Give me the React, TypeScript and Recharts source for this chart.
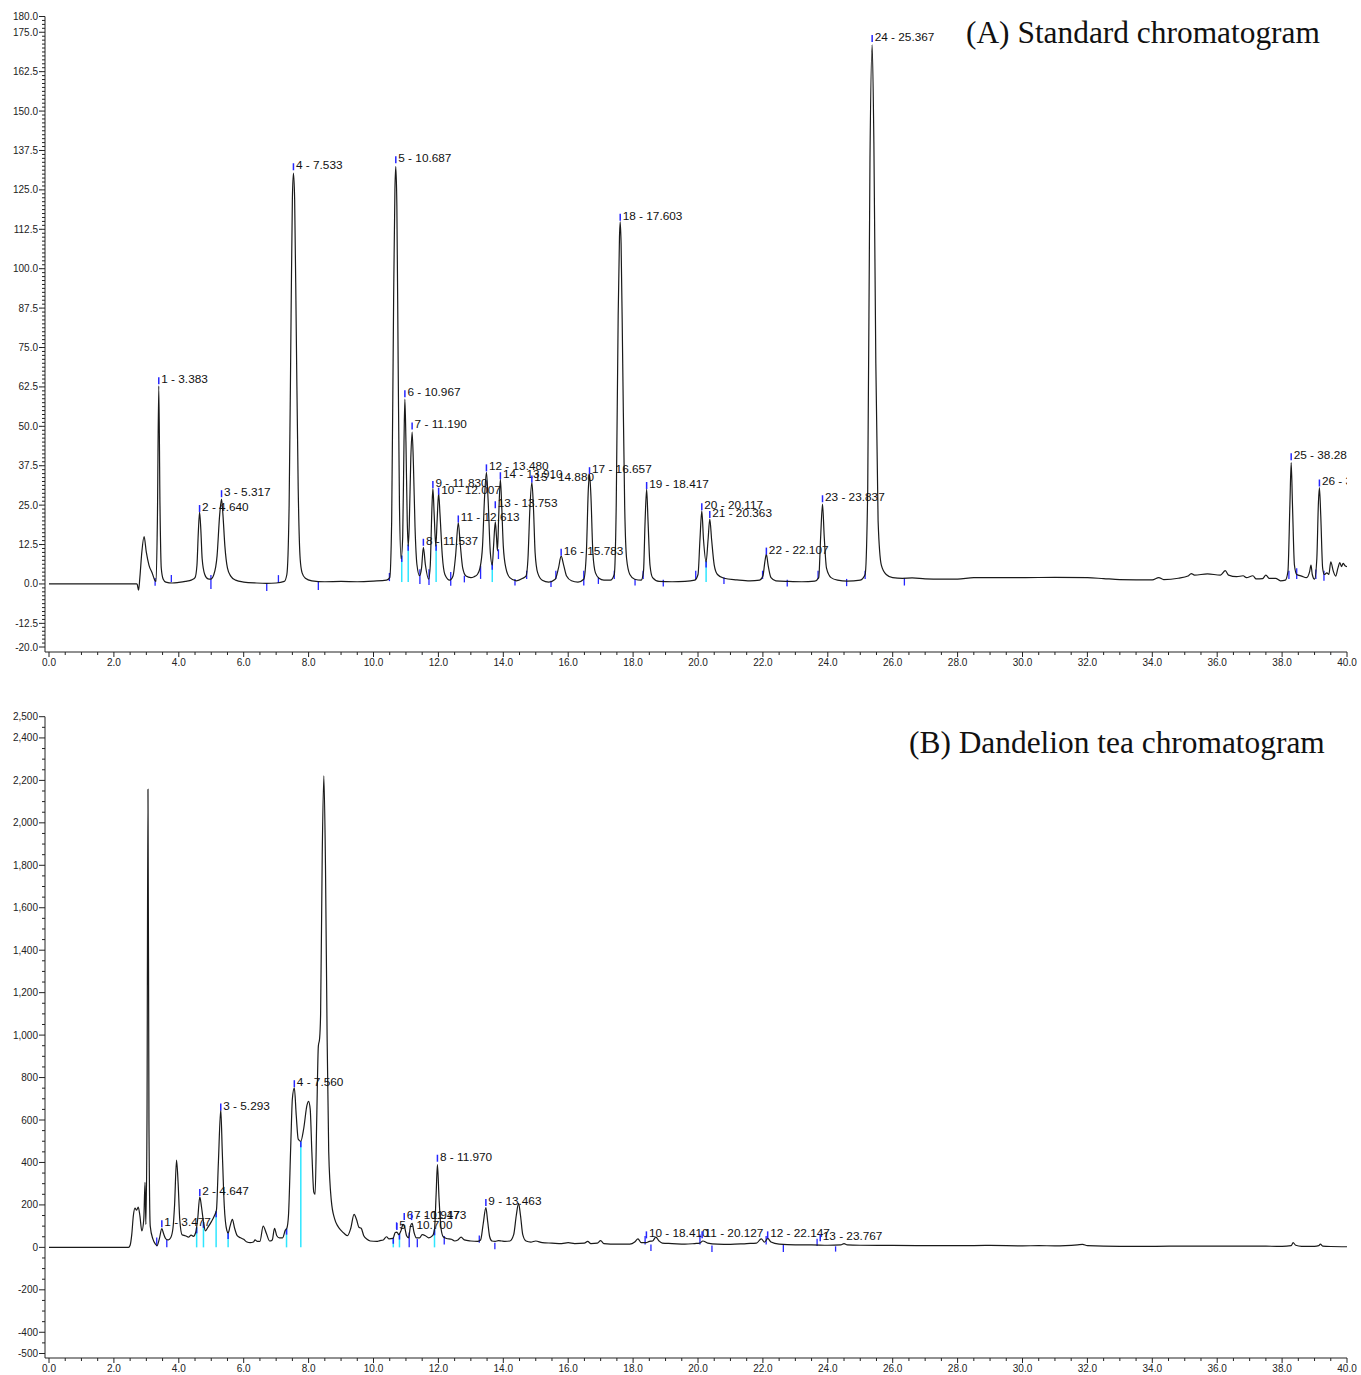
import React from 'react'
import { ComposedChart, Line, Scatter, XAxis, YAxis, ReferenceLine } from 'recharts'

// retention time (min), signal
const standardTrace: [number, number][] = [
  [0, 0], [2.7, 0], [2.72, -0.2], [2.76, -2], [2.8, 2], [2.86, 10], [2.93, 15], [3.0, 10], [3.08, 6],
  [3.18, 3.5], [3.26, 1.2], [3.3, 0.8], [3.34, 20], [3.383, 62.8], [3.42, 25], [3.46, 5], [3.52, 1.5],
  [3.6, 0.6], [3.8, 0.3], [4.0, 0.5], [4.2, 0.8], [4.4, 1.3], [4.5, 2], [4.56, 6], [4.6, 16], [4.64, 22.8],
  [4.68, 17], [4.72, 8], [4.8, 3], [4.9, 1.6], [4.98, 1.5], [5.08, 3], [5.18, 9], [5.26, 22], [5.317, 26.9],
  [5.36, 22], [5.42, 12], [5.5, 5], [5.6, 2.5], [5.75, 1.2], [6.0, 0.6], [6.4, 0.3], [6.7, 0.2], [7.0, 0.3],
  [7.25, 0.8], [7.33, 3], [7.4, 25], [7.46, 85], [7.5, 122], [7.533, 130.3], [7.57, 122], [7.62, 80],
  [7.68, 30], [7.74, 8], [7.8, 3.5], [7.9, 1.8], [8.1, 1], [8.5, 0.7], [9.0, 0.8], [9.5, 0.7], [10.0, 0.9],
  [10.4, 1.2], [10.5, 2], [10.56, 20], [10.62, 90], [10.66, 125], [10.687, 132.4], [10.72, 120], [10.76, 70],
  [10.8, 25], [10.85, 8], [10.9, 15], [10.94, 45], [10.967, 58.6], [11.0, 45], [11.04, 20], [11.07, 12],
  [11.1, 18], [11.15, 40], [11.19, 48.2], [11.23, 38], [11.28, 18], [11.34, 6], [11.42, 2.6], [11.48, 5],
  [11.537, 11.6], [11.6, 6], [11.7, 1.5], [11.75, 6], [11.8, 24], [11.83, 30.3], [11.87, 22], [11.92, 12],
  [11.96, 20], [12.007, 28.8], [12.05, 22], [12.12, 9], [12.2, 3], [12.35, 1.2], [12.45, 2.5], [12.53, 9],
  [12.613, 19.5], [12.67, 13], [12.75, 5], [12.85, 2.5], [13.0, 2], [13.1, 2.3], [13.2, 3], [13.28, 5],
  [13.36, 12], [13.42, 27], [13.48, 35.4], [13.53, 27], [13.6, 10], [13.66, 6], [13.7, 12], [13.753, 19.7],
  [13.79, 15], [13.82, 10.5], [13.86, 22], [13.91, 33.2], [13.95, 25], [14.0, 12], [14.08, 5], [14.2, 2],
  [14.4, 1], [14.6, 1.8], [14.7, 2.5], [14.76, 8], [14.82, 24], [14.88, 32.2], [14.93, 24], [14.98, 10],
  [15.06, 3.5], [15.2, 1.2], [15.4, 0.6], [15.6, 1.5], [15.7, 5], [15.783, 8.8], [15.86, 6], [15.95, 2.5],
  [16.1, 1], [16.3, 0.6], [16.48, 1.5], [16.56, 10], [16.62, 30], [16.657, 34.8], [16.7, 28], [16.76, 10],
  [16.84, 3.5], [16.95, 1.8], [17.1, 1.2], [17.3, 1.2], [17.42, 3], [17.48, 25], [17.54, 85], [17.58, 110],
  [17.603, 114.9], [17.63, 108], [17.68, 70], [17.74, 25], [17.8, 8], [17.9, 3], [18.05, 1.5], [18.25, 1.2],
  [18.32, 4], [18.37, 20], [18.417, 30.1], [18.46, 20], [18.52, 6], [18.6, 2], [18.8, 0.8], [19.2, 0.7],
  [19.6, 0.8], [19.9, 1.2], [20.0, 3], [20.06, 14], [20.117, 23.2], [20.17, 14], [20.25, 7], [20.31, 14],
  [20.363, 20.6], [20.42, 14], [20.5, 6], [20.6, 3], [20.8, 1.8], [21.2, 1.3], [21.6, 1], [21.9, 1.2],
  [22.0, 2.5], [22.06, 7], [22.107, 9.5], [22.16, 6], [22.25, 2], [22.4, 1], [22.8, 0.8], [23.2, 0.7],
  [23.6, 0.9], [23.72, 2], [23.78, 15], [23.837, 25.3], [23.89, 15], [23.96, 5], [24.1, 2], [24.3, 1.2],
  [24.6, 0.9], [25.0, 1.2], [25.15, 3], [25.23, 30], [25.3, 135], [25.367, 171], [25.42, 140], [25.48, 70],
  [25.55, 20], [25.65, 6], [25.8, 3], [26.0, 2], [26.3, 1.8], [26.6, 1.9], [27.0, 1.6], [27.5, 1.5],
  [28.0, 1.5], [28.5, 2], [29.0, 2], [30.0, 2], [31.0, 2.1], [32.0, 2], [32.5, 1.7], [33.0, 1.4], [34.0, 1.3],
  [34.2, 2], [34.35, 1.4], [34.8, 1.8], [35.1, 2.5], [35.2, 3.3], [35.3, 2.8], [35.7, 3.2], [36.1, 2.8],
  [36.25, 4.2], [36.35, 2.8], [36.6, 2.3], [36.8, 2.6], [36.9, 2], [37.1, 2.6], [37.2, 1.6], [37.4, 1.7],
  [37.5, 2.8], [37.6, 1.8], [37.8, 1.8], [37.95, 1], [38.1, 1.2], [38.18, 4], [38.24, 25], [38.28, 38.5],
  [38.32, 25], [38.38, 6], [38.45, 3], [38.6, 2.5], [38.75, 2], [38.85, 4], [38.89, 6], [38.93, 3],
  [39.0, 1.5], [39.07, 8], [39.12, 26], [39.15, 30.6], [39.19, 22], [39.25, 5], [39.3, 3], [39.38, 3.5],
  [39.44, 3], [39.5, 7], [39.58, 4], [39.65, 2.5], [39.72, 5], [39.78, 6.8], [39.83, 5.5], [39.88, 6.5],
  [39.94, 5.8], [40.0, 5.5],
]

// retention time (min), signal — dandelion tea extract
const dandelionTrace: [number, number][] = [
  [0, 0], [2.45, 0], [2.5, 10], [2.55, 60], [2.6, 150], [2.65, 185], [2.7, 175], [2.75, 190], [2.8, 150],
  [2.86, 77], [2.92, 130], [2.96, 306], [2.985, 108], [3.02, 600], [3.05, 2158], [3.08, 600], [3.12, 100],
  [3.2, 40], [3.28, 15], [3.33, 8], [3.4, 40], [3.477, 88], [3.53, 65], [3.6, 40], [3.68, 35], [3.75, 45],
  [3.82, 90], [3.87, 200], [3.93, 411], [3.98, 300], [4.03, 130], [4.1, 60], [4.2, 55], [4.3, 48], [4.38, 58],
  [4.45, 52], [4.52, 70], [4.58, 130], [4.647, 238], [4.7, 190], [4.76, 120], [4.82, 78], [4.9, 95],
  [5.0, 120], [5.1, 150], [5.16, 175], [5.22, 400], [5.293, 649], [5.34, 450], [5.4, 200], [5.48, 80],
  [5.52, 68], [5.58, 100], [5.65, 132], [5.72, 90], [5.8, 55], [5.9, 45], [6.0, 38], [6.1, 25], [6.2, 22],
  [6.3, 25], [6.35, 35], [6.42, 28], [6.5, 28], [6.6, 100], [6.7, 65], [6.8, 30], [6.88, 35], [6.95, 90],
  [7.02, 55], [7.1, 45], [7.2, 45], [7.28, 80], [7.33, 90], [7.38, 150], [7.45, 480], [7.5, 700], [7.56, 751],
  [7.62, 620], [7.68, 510], [7.76, 500], [7.85, 560], [7.95, 670], [8.0, 688], [8.05, 650], [8.1, 450],
  [8.16, 260], [8.2, 249], [8.25, 600], [8.3, 947], [8.34, 985], [8.37, 1100], [8.42, 1850], [8.47, 2221],
  [8.52, 1800], [8.57, 1000], [8.62, 450], [8.7, 220], [8.8, 135], [8.9, 100], [9.0, 80], [9.1, 65],
  [9.2, 55], [9.3, 90], [9.4, 155], [9.48, 130], [9.55, 95], [9.62, 90], [9.7, 55], [9.8, 38], [9.9, 30],
  [10.1, 28], [10.2, 32], [10.3, 35], [10.4, 50], [10.48, 40], [10.6, 42], [10.67, 70], [10.72, 72],
  [10.78, 60], [10.85, 80], [10.91, 108], [10.96, 95], [11.02, 55], [11.08, 45], [11.14, 100], [11.19, 113],
  [11.25, 70], [11.32, 45], [11.42, 45], [11.5, 60], [11.6, 55], [11.7, 45], [11.82, 55], [11.88, 85],
  [11.93, 250], [11.97, 390], [12.02, 230], [12.08, 90], [12.15, 50], [12.25, 42], [12.4, 38], [12.5, 30],
  [12.6, 35], [12.7, 48], [12.8, 35], [13.0, 30], [13.2, 28], [13.3, 35], [13.38, 110], [13.463, 187],
  [13.52, 120], [13.58, 50], [13.65, 30], [13.75, 28], [13.85, 32], [13.95, 30], [14.05, 28], [14.2, 30],
  [14.32, 60], [14.4, 150], [14.47, 207], [14.53, 150], [14.6, 60], [14.7, 30], [14.85, 25], [15.0, 30],
  [15.2, 22], [15.5, 20], [15.8, 18], [16.0, 22], [16.2, 18], [16.5, 20], [16.6, 28], [16.7, 18], [16.9, 20],
  [17.0, 32], [17.1, 18], [17.5, 15], [17.9, 15], [18.05, 25], [18.15, 40], [18.25, 22], [18.4, 22],
  [18.5, 28], [18.6, 30], [18.7, 48], [18.8, 30], [18.9, 20], [19.2, 18], [19.6, 15], [19.9, 18],
  [20.05, 20], [20.15, 30], [20.3, 20], [20.6, 15], [21.0, 14], [21.5, 18], [21.8, 20], [21.95, 40],
  [22.05, 25], [22.15, 42], [22.25, 25], [22.5, 15], [23.0, 12], [23.5, 12], [24.0, 10], [24.4, 12],
  [24.5, 18], [24.6, 12], [25.0, 10], [26.0, 9], [27.0, 8], [28.0, 8], [29.0, 9], [30.0, 7], [30.5, 8],
  [31.0, 7], [31.7, 12], [31.85, 14], [32.0, 8], [33.0, 5], [34.0, 5], [35.0, 6], [36.0, 6], [37.0, 6],
  [38.0, 5], [38.28, 8], [38.34, 22], [38.42, 10], [38.6, 5], [39.0, 5], [39.13, 8], [39.18, 15], [39.25, 6],
  [39.5, 4], [40.0, 3],
]

// peak annotations: [time, label height, text]
const standardPeaks: [number, number, string][] = [
  [3.383, 64.9, '1 - 3.383'], [4.64, 24.4, '2 - 4.640'], [5.317, 29.1, '3 - 5.317'], [7.533, 132.8, '4 - 7.533'],
  [10.687, 135, '5 - 10.687'], [10.967, 60.8, '6 - 10.967'], [11.19, 50.6, '7 - 11.190'],
  [11.537, 13.7, '8 - 11.537'], [11.83, 32, '9 - 11.830'], [12.007, 29.9, '10 - 12.007'],
  [12.613, 21.1, '11 - 12.613'], [13.48, 37.3, '12 - 13.480'], [13.753, 25.6, '13 - 13.753'],
  [13.91, 34.8, '14 - 13.910'], [14.88, 33.8, '15 - 14.880'], [15.783, 10.5, '16 - 15.783'],
  [16.657, 36.4, '17 - 16.657'], [17.603, 116.8, '18 - 17.603'], [18.417, 31.7, '19 - 18.417'],
  [20.117, 25, '20 - 20.117'], [20.363, 22.5, '21 - 20.363'], [22.107, 10.9, '22 - 22.107'],
  [23.837, 27.5, '23 - 23.837'], [25.367, 173.5, '24 - 25.367'], [38.28, 40.8, '25 - 38.283'],
  [39.15, 32.5, '26 - 39.150'],
]

const dandelionPeaks: [number, number, string][] = [
  [3.477, 118, '1 - 3.477'], [4.647, 265, '2 - 4.647'], [5.293, 668, '3 - 5.293'], [7.56, 778, '4 - 7.560'],
  [10.72, 105, '5 - 10.700'], [10.947, 152, '6 - 10.947'], [11.173, 152, '7 - 11.173'],
  [11.97, 427, '8 - 11.970'], [13.463, 218, '9 - 13.463'], [18.41, 66, '10 - 18.410'],
  [20.127, 66, '11 - 20.127'], [22.147, 66, '12 - 22.147'], [23.767, 52, '13 - 23.767'],
]

// integration marks: [time, from, to] (blue), drop lines: [time, from, to] (cyan)
const standardMarks: [number, number, number][] = [
  [3.27, 1.9, -0.6], [3.77, 2.8, 0.6], [4.99, 2.8, -1.6], [6.71, 0.3, -2.2], [7.07, 2.8, 0.3], [8.3, 0.6, -1.9],
  [10.49, 3.5, 0.9], [11.43, 4.7, 0], [11.71, 4.7, -0.3], [12.38, 3.8, -0.6], [12.8, 2.6, 0.5],
  [13.3, 5.8, 1.6], [13.85, 11, 7.9], [14.36, 1.6, -0.5], [14.72, 4.2, 1.6], [15.47, 1, -1], [15.62, 4.2, 1.6],
  [16.48, 4.2, -0.5], [16.93, 2.1, 0], [17.42, 4.2, 1.6], [18.06, 1.6, -0.5], [18.31, 4.2, 1.6],
  [18.93, 1.3, -0.8], [19.93, 4.2, 1.6], [20.8, 2.1, 0], [21.99, 4.2, 1.6], [22.75, 1.3, -0.8],
  [23.7, 4.2, 1.6], [24.58, 1.6, -0.7], [25.15, 4.2, 1.6], [26.36, 1.9, -0.5], [38.21, 4.2, 1.6],
  [38.45, 5, 1.6], [39.04, 4.6, 1.6], [39.29, 4.2, 1],
]
const standardDrops: [number, number, number][] = [
  [10.87, 0.6, 9], [11.07, 0.6, 12.5], [11.93, 0.6, 12.5], [13.66, 0.6, 6.5], [20.25, 0.6, 7.2],
]

const dandelionMarks: [number, number, number][] = [
  [3.32, 47, 5], [3.63, 38, 0], [10.71, 118, 87], [11.1, 70, 0], [11.35, 40, 0], [12.18, 53, 14],
  [13.26, 56, 22], [13.74, 22, -9], [18.37, 53, 14], [18.55, 14, -17], [20.06, 61, 14], [20.43, 9, -22],
  [22.1, 53, 14], [22.63, 14, -22], [23.67, 41, 6], [24.24, 5, -20],
]
const dandelionDrops: [number, number, number][] = [
  [4.55, 0, 94], [4.76, 0, 120], [5.15, 0, 170], [5.52, 0, 68], [7.32, 0, 88], [7.76, 0, 500],
  [10.61, 0, 45], [10.8, 0, 65], [11.88, 0, 85],
]

// axis labels
const xMajor = [0, 2, 4, 6, 8, 10, 12, 14, 16, 18, 20, 22, 24, 26, 28, 30, 32, 34, 36, 38, 40]
const yMajorA = [-20, -12.5, 0, 12.5, 25, 37.5, 50, 62.5, 75, 87.5, 100, 112.5, 125, 137.5, 150, 162.5, 175, 180]
const yMajorB = [-500, -400, -200, 0, 200, 400, 600, 800, 1000, 1200, 1400, 1600, 1800, 2000, 2200, 2400, 2500]

const range = (a: number, b: number, s: number) => {
  const out: number[] = []
  for (let i = 0; a + i * s <= b + 1e-9; i++) out.push(+(a + i * s).toFixed(4))
  return out
}

const FONT = '"Liberation Sans", Arial, sans-serif'
const AXIS = '#222'
const BLUE = '#2626ff'
const CYAN = '#2fe6ff'

const isMajor = (majors: number[], v: number) => majors.some((m) => Math.abs(m - v) < 1e-6)

function XTick(props: any) {
  const { x, y, payload } = props
  const major = isMajor(xMajor, payload.value)
  return (
    <g>
      <line x1={x} x2={x} y1={y} y2={y + (major ? 5 : 3)} stroke={AXIS} />
      {major && (
        <text x={x} y={y + 13.5} textAnchor="middle" fontSize={10} fontFamily={FONT} fill="#222">
          {payload.value.toFixed(1)}
        </text>
      )}
    </g>
  )
}

function YTick(props: any) {
  const { x, y, payload, majors, fmt } = props
  const major = isMajor(majors, payload.value)
  return (
    <g>
      <line x1={x - (major ? 6 : 3)} x2={x} y1={y} y2={y} stroke={AXIS} />
      {major && (
        <text x={x - 7} y={y + 3.5} textAnchor="end" fontSize={10} fontFamily={FONT} fill="#222">
          {fmt(payload.value)}
        </text>
      )}
    </g>
  )
}

function PeakLabel(props: any) {
  const { cx, cy, payload } = props
  return (
    <g>
      <line x1={cx} x2={cx} y1={cy - 2} y2={cy + 5} stroke={BLUE} strokeWidth={1.5} />
      <text x={cx + 2.5} y={cy + 4} fontSize={11.8} fontFamily={FONT} fill="#111">
        {payload.text}
      </text>
    </g>
  )
}

interface ChromProps {
  trace: [number, number][]
  peaks: [number, number, string][]
  marks: [number, number, number][]
  drops: [number, number, number][]
  yDomain: [number, number]
  yMajor: number[]
  yStep: number
  cap: number
  fmt: (v: number) => string
  height: number
  margin: { top: number; right: number; bottom: number; left: number }
  xHeight: number
  yPadBottom: number
}

function Chromatogram(p: ChromProps) {
  const data = p.trace.map(([t, v]) => ({ t, v }))
  const labels = p.peaks.map(([t, v, text]) => ({ t, v, text }))
  const yTicks = range(p.yDomain[0], p.yDomain[1], p.yStep)
  return (
    <ComposedChart width={1361} height={p.height} data={data} margin={p.margin}>
      <XAxis
        dataKey="t"
        type="number"
        domain={[0, 40]}
        ticks={range(0, 40, 0.5)}
        interval={0}
        height={p.xHeight}
        padding={{ left: 4, right: 0 }}
        tickSize={0}
        tickMargin={0}
        tickLine={false}
        axisLine={{ stroke: AXIS }}
        tick={<XTick />}
        allowDataOverflow
      />
      <YAxis
        type="number"
        domain={p.yDomain}
        ticks={yTicks}
        interval={0}
        width={45}
        padding={{ top: 0, bottom: p.yPadBottom }}
        tickSize={0}
        tickMargin={0}
        tickLine={false}
        axisLine={{ stroke: AXIS }}
        tick={<YTick majors={p.yMajor} fmt={p.fmt} />}
        allowDataOverflow
      />
      {p.drops.map(([t, a, b], i) => (
        <ReferenceLine key={'d' + i} segment={[{ x: t, y: a }, { x: t, y: b }]} stroke={CYAN} strokeWidth={1.5} ifOverflow="visible" />
      ))}
      {p.drops.map(([t, , b], i) => (
        <ReferenceLine key={'c' + i} segment={[{ x: t, y: b - p.cap }, { x: t, y: b }]} stroke={BLUE} strokeWidth={1.5} ifOverflow="visible" />
      ))}
      {p.marks.map(([t, a, b], i) => (
        <ReferenceLine key={'m' + i} segment={[{ x: t, y: a }, { x: t, y: b }]} stroke={BLUE} strokeWidth={1.3} ifOverflow="visible" />
      ))}
      <Line
        dataKey="v"
        type="monotone"
        stroke="#1a1a1a"
        strokeWidth={1.2}
        dot={false}
        activeDot={false}
        isAnimationActive={false}
      />
      <Scatter data={labels} dataKey="v" shape={<PeakLabel />} isAnimationActive={false} />
    </ComposedChart>
  )
}

const titleStyle: React.CSSProperties = {
  position: 'absolute',
  fontFamily: '"Liberation Serif", "Times New Roman", serif',
  fontSize: 31.4,
  lineHeight: '31px',
  color: '#111',
  whiteSpace: 'nowrap',
}

export default function App() {
  return (
    <div style={{ position: 'relative', width: 1361, height: 1375, background: '#fff', overflow: 'hidden' }}>
      <style>{'html,body{margin:0;padding:0;overflow:hidden;background:#fff}'}</style>
      <div style={{ position: 'absolute', left: 0, top: 0 }}>
        <Chromatogram
          trace={standardTrace}
          peaks={standardPeaks}
          marks={standardMarks}
          drops={standardDrops}
          yDomain={[-20, 180]}
          yMajor={yMajorA}
          yStep={1.25}
          cap={2}
          fmt={(v) => v.toFixed(1)}
          height={688}
          margin={{ top: 16.5, right: 14, bottom: 16, left: 0 }}
          xHeight={20}
          yPadBottom={5}
        />
      </div>
      <div style={{ position: 'absolute', left: 0, top: 688 }}>
        <Chromatogram
          trace={dandelionTrace}
          peaks={dandelionPeaks}
          marks={dandelionMarks}
          drops={dandelionDrops}
          yDomain={[-500, 2500]}
          yMajor={yMajorB}
          yStep={50}
          cap={28}
          fmt={(v) => v.toLocaleString('en-US')}
          height={687}
          margin={{ top: 28.7, right: 14, bottom: 0, left: 0 }}
          xHeight={17}
          yPadBottom={4.5}
        />
      </div>
      <div style={{ ...titleStyle, left: 966, top: 17 }}>(A) Standard chromatogram</div>
      <div style={{ ...titleStyle, left: 909, top: 727 }}>(B) Dandelion tea chromatogram</div>
    </div>
  )
}
